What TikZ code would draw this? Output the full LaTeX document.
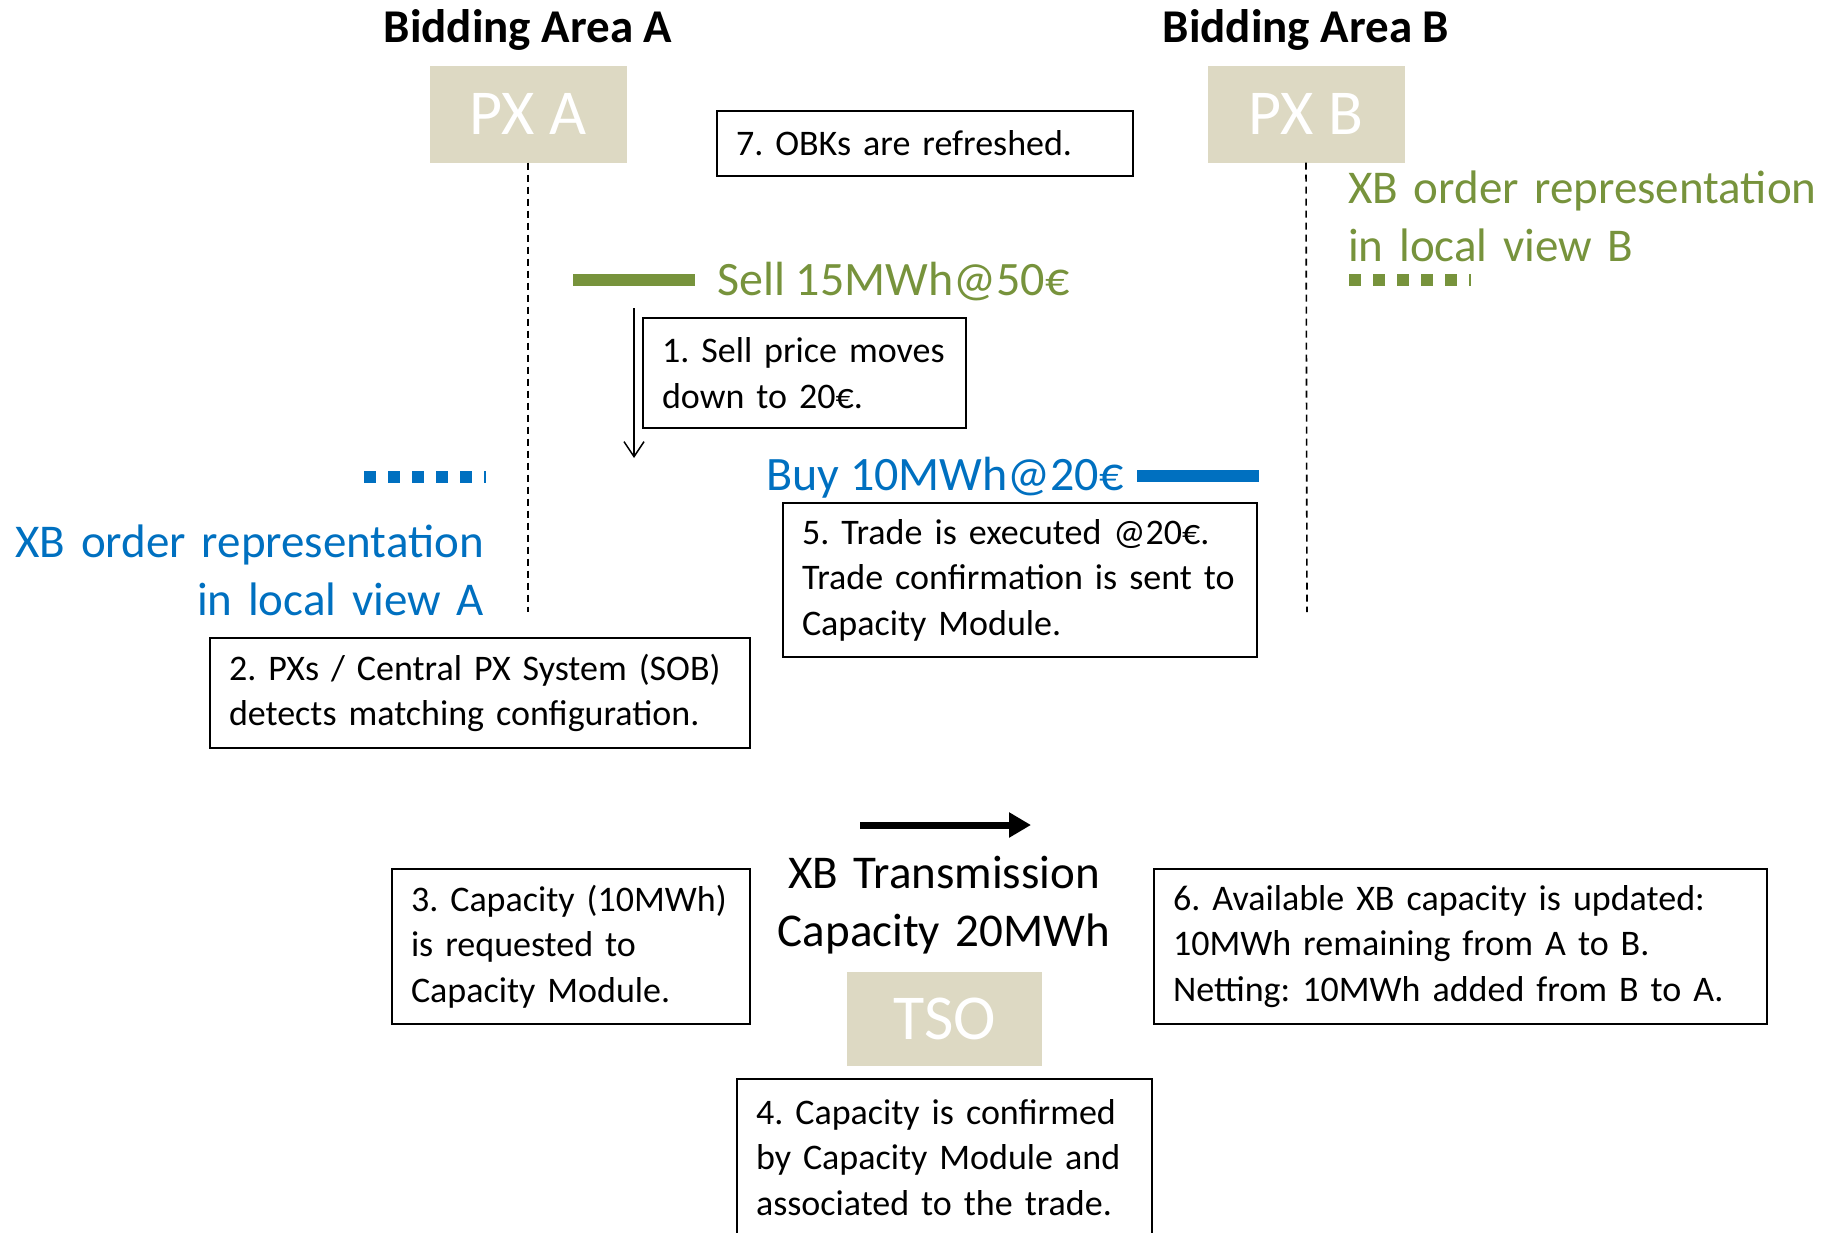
\documentclass[tikz,border=0pt]{standalone}
\usepackage{fontspec}
\setmainfont{Carlito}
\usetikzlibrary{arrows.meta}
\definecolor{pxtan}{HTML}{DDD9C3}
\definecolor{sellgreen}{HTML}{77933C}
\definecolor{buyblue}{HTML}{0070C0}
\frenchspacing

\begin{document}
\begin{tikzpicture}[x=1pt,y=-1pt,
  areatitle/.style={font=\fontsize{47}{55}\selectfont\bfseries, anchor=base, inner sep=0pt},
  actor/.style={fill=pxtan, text=white, inner sep=0pt,
    font=\fontsize{64}{74}\selectfont},
  stepbox/.style={draw, line width=2pt, inner xsep=19pt, inner ysep=0pt,
    align=left, font=\fontsize{36}{45.5}\selectfont},
  ordertext/.style={inner sep=0pt, font=\fontsize{47}{58}\selectfont},
  pricetext/.style={inner sep=0pt, font=\fontsize{48}{58}\selectfont},
  lifeline/.style={line width=1.6pt, dash pattern=on 7pt off 5pt},
  orderbar/.style={line width=12pt},
  xbbar/.style={line width=12pt, dash pattern=on 12pt off 12pt}
]
\clip (0,0) rectangle (1829,1232);

% bidding areas and exchanges
\node[areatitle] (titleA) at (528,42) {Bidding Area A};
\node[areatitle] (titleB) at (1306,42) {Bidding Area B};
\node[actor, minimum width=197pt, minimum height=97pt] (pxa) at (528,114) {PX A};
\node[actor, minimum width=197pt, minimum height=97pt] (pxb) at (1306,114) {PX B};

% lifelines
\coordinate (endA) at (528,612);
\coordinate (endB) at (1307,612);
\draw[lifeline] (pxa.south) -- (endA);
\draw[lifeline] (pxb.south) -- (endB);

% step 7
\node[stepbox, text width=378pt, minimum height=65pt] (s7) at (925,143.5)
  {\mbox{7. OBKs are refreshed.}};

% sell order in area A
\coordinate (sellL) at (573,280);
\coordinate (sellR) at (695,280);
\draw[orderbar, sellgreen] (sellL) -- (sellR);
\node[pricetext, text=sellgreen, anchor=base west] (sell) at (717,295) {Sell 15MWh@50€};

% its cross-border representation in area B
\coordinate (xbBL) at (1349,280);
\coordinate (xbBR) at (1471,280);
\draw[xbbar, sellgreen] (xbBL) -- (xbBR);
\node[ordertext, text=sellgreen, text width=480pt, align=left, anchor=base west] (viewB)
  at (1348,203) {XB order representation\\in local view B};

% step 1: price move
\coordinate (mvTop) at (634,308);
\coordinate (mvBot) at (634,458);
\draw[line width=1.5pt, -{Straight Barb[length=15pt,width=20pt,line width=1.5pt]}] (mvTop) -- (mvBot);
\node[stepbox, text width=285pt, minimum height=110pt] (s1) at (804.5,373)
  {\mbox{1. Sell price moves}\\\mbox{down to 20€.}};

% buy order in area B
\coordinate (buyL) at (1137,476);
\coordinate (buyR) at (1259,476);
\draw[orderbar, buyblue] (buyL) -- (buyR);
\node[pricetext, text=buyblue, anchor=base west] (buy) at (766,490) {Buy 10MWh@20€};

% its cross-border representation in area A
\coordinate (xbAL) at (364,477);
\coordinate (xbAR) at (486,477);
\draw[xbbar, buyblue] (xbAL) -- (xbAR);
\node[ordertext, text=buyblue, text width=470pt, align=right, anchor=base east] (viewA)
  at (484,557) {XB order representation\\in local view A};

% steps 5 and 2
\node[stepbox, text width=436pt, minimum height=154pt] (s5) at (1020,580)
  {\mbox{5. Trade is executed @20€.}\\\mbox{Trade confirmation is sent to}\\\mbox{Capacity Module.}};
\node[stepbox, text width=502pt, minimum height=110pt] (s2) at (480,693)
  {\mbox{2. PXs / Central PX System (SOB)}\\\mbox{detects matching configuration.}};

% transmission capacity and TSO
\coordinate (flowL) at (860,825);
\coordinate (flowR) at (1031,825);
\draw[line width=7pt, -{Triangle[length=22pt,width=24pt]}] (flowL) -- (flowR);
\node[ordertext, text width=360pt, align=center, anchor=base] (xbcap) at (944,888)
  {XB Transmission\\Capacity 20MWh};
\node[actor, minimum width=195pt, minimum height=94pt] (tso) at (944.5,1019) {TSO};

% steps 3, 6 and 4
\node[stepbox, text width=320pt, minimum height=155pt] (s3) at (571,946.5)
  {\mbox{3. Capacity (10MWh)}\\\mbox{is requested to}\\\mbox{Capacity Module.}};
\node[stepbox, text width=575pt, minimum height=155pt] (s6) at (1460.5,946.5)
  {\mbox{6. Available XB capacity is updated:}\\\mbox{10MWh remaining from A to B.}\\\mbox{Netting: 10MWh added from B to A.}};
\node[stepbox, text width=377pt, minimum height=157pt] (s4) at (944.5,1157.5)
  {\mbox{4. Capacity is confirmed}\\\mbox{by Capacity Module and}\\\mbox{associated to the trade.}};
\end{tikzpicture}
\end{document}
